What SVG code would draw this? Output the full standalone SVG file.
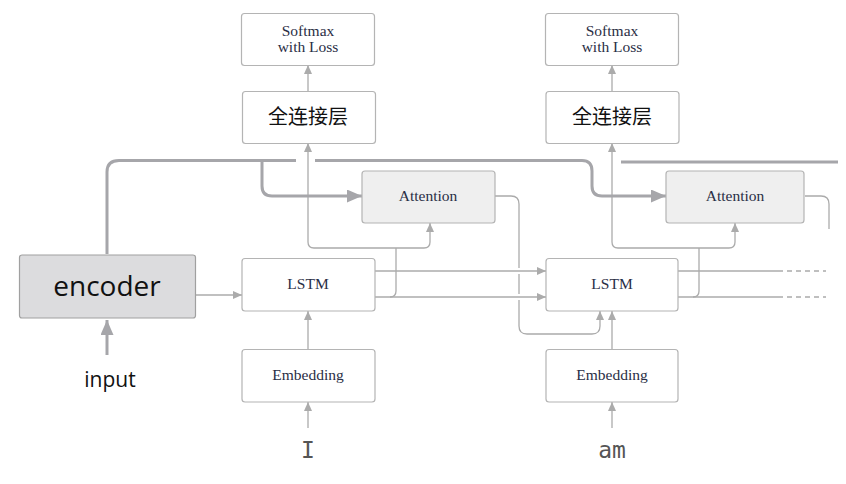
<svg xmlns="http://www.w3.org/2000/svg" width="846" height="484" viewBox="0 0 846 484">
<style>
.box{fill:#fff;stroke:#b4b4b4;stroke-width:1.2}
.att{fill:#efefef;stroke:#b4b4b4;stroke-width:1.2}
.enc{fill:#dcdcde;stroke:#a0a0a0;stroke-width:1.2}
.tex{font-family:"Liberation Serif",serif;font-size:15.5px;fill:#2a2e45;text-anchor:middle}
.cjk{font-family:"Noto Sans CJK SC",sans-serif;font-size:20px;fill:#111;text-anchor:middle}
.mono{font-family:"DejaVu Sans Mono",monospace;font-size:23px;fill:#555;text-anchor:middle}
.thin{fill:none;stroke:#ababab;stroke-width:1.3}
.thick{fill:none;stroke:#a6a6aa;stroke-width:3}
.dash{fill:none;stroke:#ababab;stroke-width:1.3;stroke-dasharray:5 4}
</style>
<defs>
<marker id="s" markerUnits="userSpaceOnUse" markerWidth="9" markerHeight="8" refX="9" refY="4" orient="auto"><path d="M0,0 L9,4 L0,8 z" fill="#ababab"/></marker>
<marker id="b" markerUnits="userSpaceOnUse" markerWidth="15" markerHeight="13" refX="15" refY="6.5" orient="auto"><path d="M0,0 L15,6.5 L0,13 z" fill="#a6a6aa"/></marker>
</defs>

<g id="connectors">
<path class="thin" d="M195,295 H242" marker-end="url(#s)"/>
<path class="thick" d="M107,355 V320" marker-end="url(#b)"/>
<path class="thin" d="M308,428 V402" marker-end="url(#s)"/>
<path class="thin" d="M308,349 V311" marker-end="url(#s)"/>
<path class="thin" d="M308,91 V65" marker-end="url(#s)"/>
<path class="thin" d="M612,428 V402" marker-end="url(#s)"/>
<path class="thin" d="M612,349 V311" marker-end="url(#s)"/>
<path class="thin" d="M612,91 V65" marker-end="url(#s)"/>
<!-- column 1 hidden state -->
<path class="thin" d="M314,248 Q308,248 308,242 V143" marker-end="url(#s)"/>
<path class="thin" d="M314,248 H424 Q430,248 430,242 V223" marker-end="url(#s)"/>
<path class="thin" d="M390,297 Q396,297 396,291 V248"/>
<!-- attention1 out -->
<path class="thin" d="M495,196 H511 Q519,196 519,204 V326 Q519,334 527,334 H592 Q600,334 600,326 V311" marker-end="url(#s)"/>
<rect x="515" y="268" width="8" height="6" fill="#fff"/>
<rect x="515" y="294" width="8" height="6" fill="#fff"/>
<path class="thin" d="M375,271 H546" marker-end="url(#s)"/>
<path class="thin" d="M375,297 H546" marker-end="url(#s)"/>
<!-- column 2 hidden state -->
<path class="thin" d="M618,248 Q612,248 612,242 V143" marker-end="url(#s)"/>
<path class="thin" d="M618,248 H729 Q735,248 735,242 V223" marker-end="url(#s)"/>
<path class="thin" d="M693,297 Q699,297 699,291 V248"/>
<path class="thin" d="M678,271 H783"/>
<path class="thin" d="M678,297 H783"/>
<path class="dash" d="M787,271 H826"/>
<path class="dash" d="M787,297 H826"/>
<path class="thin" d="M805,196 H821 Q829,196 829,204 V229"/>
<!-- encoder context -->
<path class="thick" d="M107,254 V172 Q107,160.5 119,160.5 H296"/>
<path class="thick" d="M262,160.5 V186 Q262,196 272,196 H362" marker-end="url(#b)"/>
<path class="thick" d="M315,160.5 H582 Q592,160.5 592,171 V186 Q592,196 602,196 H666" marker-end="url(#b)"/>
<path class="thick" d="M621,162 H838"/>
</g>

<g id="encoder"><rect class="enc" x="19.5" y="255" width="176" height="63" rx="2.5"/><text x="107" y="296" font-family="Open Sans, sans-serif" font-size="28" fill="#111" text-anchor="middle">encoder</text></g>
<g id="input"><text x="110" y="387" font-family="Open Sans, sans-serif" font-size="21" fill="#111" text-anchor="middle">input</text></g>

<g id="softmax1"><rect class="box" x="241.5" y="13.5" width="133" height="52" rx="3"/><text class="tex" x="308" y="36">Softmax</text><text class="tex" x="308" y="52">with Loss</text></g>
<g id="fc1"><rect class="box" x="242.5" y="91.5" width="133" height="52" rx="3"/><text class="cjk" x="308" y="124">全连接层</text></g>
<g id="attention1"><rect class="att" x="362" y="171" width="133" height="52" rx="3"/><text class="tex" x="428" y="201">Attention</text></g>
<g id="lstm1"><rect class="box" x="242" y="258.5" width="133" height="52.5" rx="3"/><text class="tex" x="308" y="289">LSTM</text></g>
<g id="embedding1"><rect class="box" x="242" y="349.5" width="133" height="52.5" rx="3"/><text class="tex" x="308" y="380">Embedding</text></g>
<g id="word1"><text class="mono" x="308" y="458">I</text></g>

<g id="softmax2"><rect class="box" x="545.5" y="13.5" width="133" height="52" rx="3"/><text class="tex" x="612" y="36">Softmax</text><text class="tex" x="612" y="52">with Loss</text></g>
<g id="fc2"><rect class="box" x="546" y="91.5" width="133" height="52" rx="3"/><text class="cjk" x="612" y="124">全连接层</text></g>
<g id="attention2"><rect class="att" x="666" y="171" width="138" height="52" rx="3"/><text class="tex" x="735" y="201">Attention</text></g>
<g id="lstm2"><rect class="box" x="546" y="258.5" width="132" height="52.5" rx="3"/><text class="tex" x="612" y="289">LSTM</text></g>
<g id="embedding2"><rect class="box" x="546" y="349.5" width="132" height="52.5" rx="3"/><text class="tex" x="612" y="380">Embedding</text></g>
<g id="word2"><text class="mono" x="612" y="458">am</text></g>
</svg>
